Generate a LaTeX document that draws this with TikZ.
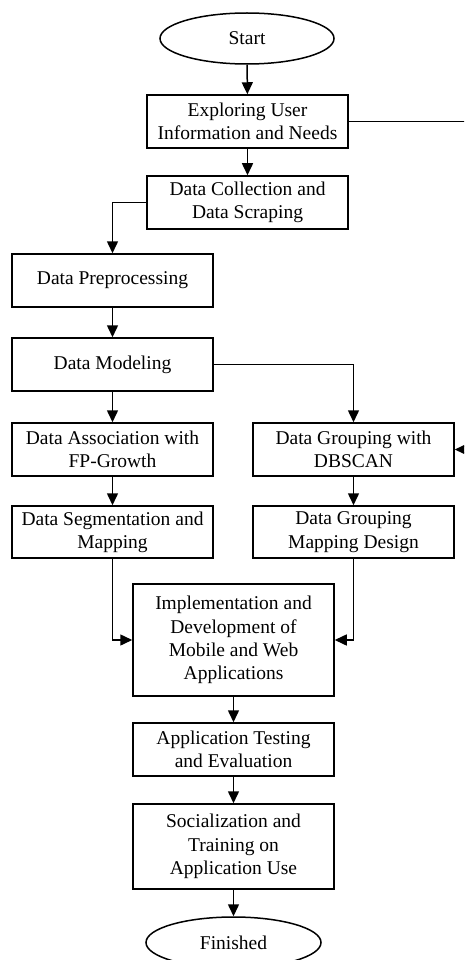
\documentclass[tikz,border=0pt]{standalone}
\usepackage{fontspec}
\setmainfont{Liberation Serif}
\usetikzlibrary{arrows.meta,shapes.geometric}
\begin{document}
\begin{tikzpicture}[x=1pt,y=1pt,
  font=\fontsize{19.5}{23.3}\selectfont,
  stepbox/.style={draw,line width=1.5pt,rectangle,minimum width=201pt,
    minimum height=53pt,inner sep=0pt,align=center},
  terminal/.style={draw,line width=1.5pt,ellipse,minimum width=174pt,
    minimum height=51pt,inner sep=0pt},
  arr/.style={line width=1.5pt,-{Triangle[width=11pt,length=12pt]}}]
\useasboundingbox (0,0) rectangle (464,-960);
\clip (0,0) rectangle (464,-960);

% terminals
\node[terminal] (start) at (247,-38.5) {Start};
\node[terminal,minimum width=175pt] (finish) at (233.5,-942.5) {Finished};

% process steps
\node[stepbox] (explore) at (247.5,-121.5) {Exploring User\\Information and Needs};
\node[stepbox] (collect) at (247.5,-202.5) {Data Collection and\\Data Scraping};
\node[stepbox] (prep)    at (112.5,-280.5) {Data Preprocessing};
\node[stepbox] (model)   at (112.5,-364.5) {Data Modeling};
\node[stepbox] (fp)      at (112.5,-449.5) {Data Association with\\FP-Growth};
\node[stepbox] (db)      at (353.5,-449.5) {Data Grouping with\\DBSCAN};
\node[stepbox,minimum height=52pt] (seg)  at (112.5,-532) {Data Segmentation and\\Mapping};
\node[stepbox,minimum height=52pt] (mapd) at (353.5,-532) {Data Grouping\\Mapping Design};
\node[stepbox,minimum height=112pt] (impl) at (233.5,-640) {Implementation and\\Development of\\Mobile and Web\\Applications};
\node[stepbox] (test)    at (233.5,-749.5) {Application Testing\\and Evaluation};
\node[stepbox,minimum height=85pt] (social) at (233.5,-846.5) {Socialization and\\Training on\\Application Use};

% feedback rail along the right side
\coordinate (rail) at (472,0);

% connectors
\draw[arr] (start) -- (explore);
\draw[arr] (explore) -- (collect);
\draw[arr] (explore.east) -- (rail |- explore.east) -- (rail |- db.east) -- (db.east);
\draw[arr] (collect.west) -| (prep.north);
\draw[arr] (prep) -- (model);
\draw[arr] (model.east) -| (db.north);
\draw[arr] (model) -- (fp);
\draw[arr] (fp) -- (seg);
\draw[arr] (db) -- (mapd);
\draw[arr] (seg.south) |- (impl.west);
\draw[arr] (mapd.south) |- (impl.east);
\draw[arr] (impl) -- (test);
\draw[arr] (test) -- (social);
\draw[arr] (social) -- (finish);
\end{tikzpicture}
\end{document}
